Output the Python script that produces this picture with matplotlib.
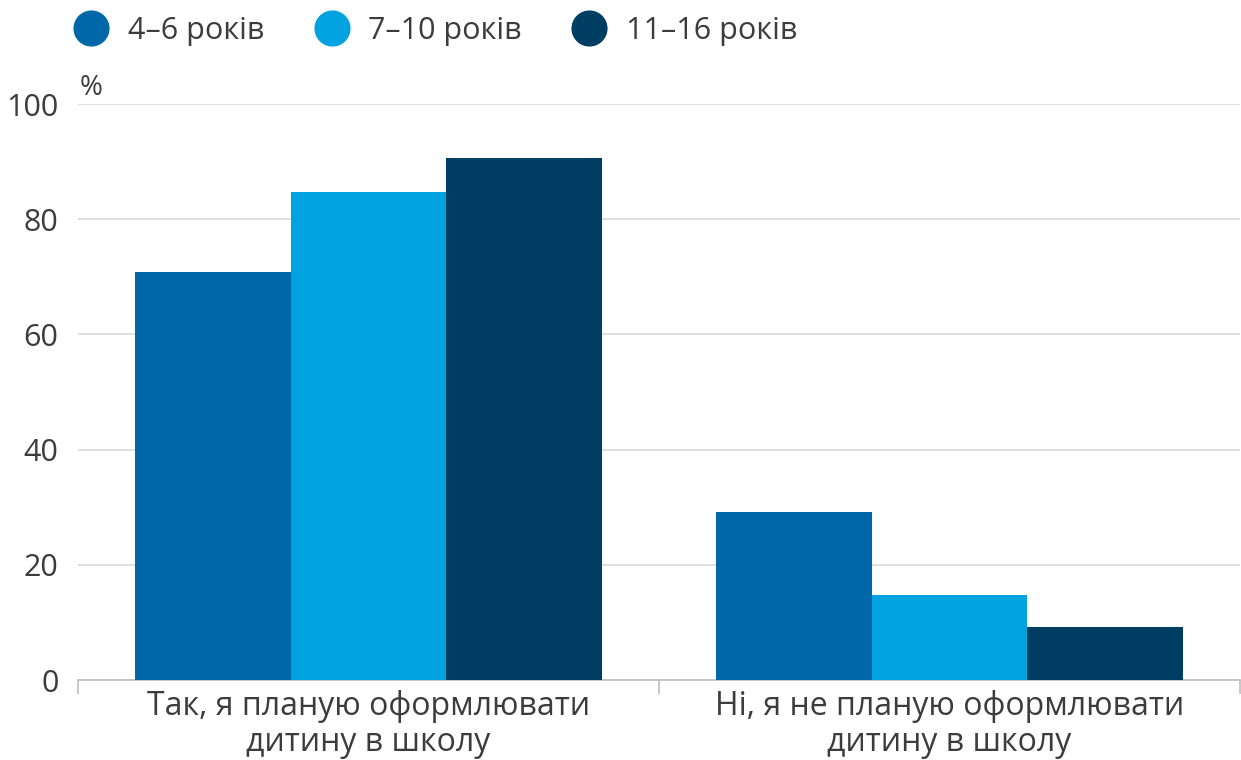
import matplotlib.pyplot as plt
import numpy as np
from matplotlib.lines import Line2D

categories = ['Так, я планую оформлювати\nдитину в школу',
              'Ні, я не планую оформлювати\nдитину в школу']
series = ['4–6 років', '7–10 років', '11–16 років']
age_4_6 = [70.8, 29.2]
age_7_10 = [84.7, 14.8]
age_11_16 = [90.6, 9.2]
values = [age_4_6, age_7_10, age_11_16]
colors = ['#0068A9', '#00A3E0', '#003D62']

plt.rcParams['font.family'] = ['Open Sans', 'DejaVu Sans']
text_color = '#3c3c3c'

fig = plt.figure(figsize=(12.41, 7.6), dpi=100)
ax = fig.add_axes([78 / 1241, 80 / 760, 1162 / 1241, 576 / 760])

x = np.arange(len(categories))
width = 0.268
for i, (name, vals) in enumerate(zip(series, values)):
    ax.bar(x + (i - 1) * width, vals, width, color=colors[i], zorder=3, label=name)

ax.set_xlim(-0.5, 1.5)
ax.set_ylim(0, 100)
ax.set_yticks([0, 20, 40, 60, 80, 100])
ax.grid(axis='y', color='#d9d9d9', linewidth=1.2, zorder=0)
ax.tick_params(axis='y', length=0, pad=14, labelsize=22, labelcolor=text_color)

ax.set_xticks([-0.5, 0.5, 1.5])
ax.set_xticklabels([])
ax.set_xticks(x, minor=True)
ax.set_xticklabels(categories, minor=True, fontsize=23, color=text_color, linespacing=1.12)
ax.tick_params(axis='x', which='major', length=10, color='#bfbfbf', width=1.2)
ax.tick_params(axis='x', which='minor', length=0, pad=7)

for s in ['top', 'right', 'left']:
    ax.spines[s].set_visible(False)
ax.spines['bottom'].set_color('#bfbfbf')
ax.spines['bottom'].set_linewidth(1.2)

fig.text(80 / 1241, 1 - 88 / 760, '%', fontsize=20, color=text_color, va='center', ha='left')

handles = [Line2D([], [], marker='o', linestyle='', markersize=25, color=c) for c in colors]
fig.legend(handles, series, loc='center left', bbox_to_anchor=(73 / 1241, 1 - 31 / 760),
           ncol=3, frameon=False, fontsize=22, labelcolor=text_color,
           handletextpad=0.6, columnspacing=1.6, handlelength=1.2, borderpad=0,
           borderaxespad=0)

fig.savefig('out.png', dpi=100)
